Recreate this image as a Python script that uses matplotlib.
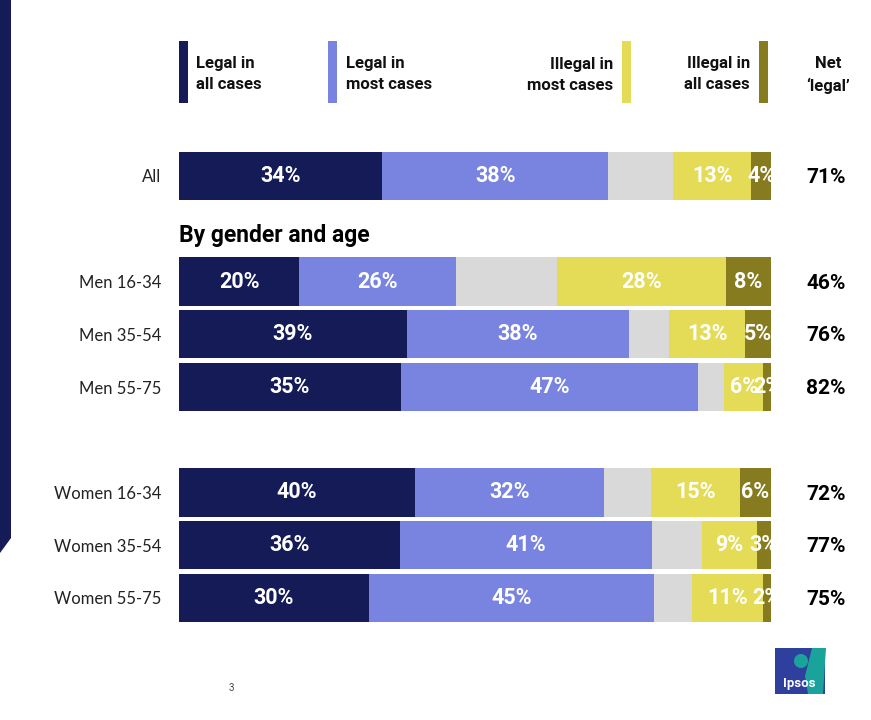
import matplotlib
matplotlib.use("Agg")
import matplotlib.pyplot as plt
from matplotlib.patches import Polygon, Rectangle, Circle

plt.rcParams['font.family'] = ['Roboto', 'DejaVu Sans']

groups = ["All", "Men 16-34", "Men 35-54", "Men 55-75",
          "Women 16-34", "Women 35-54", "Women 55-75"]
row_pos = [0, 2, 3, 4, 6, 7, 8]

# segment lengths as drawn in the picture (%)
legal_all_w = [34.3, 20.3, 38.5, 37.5, 39.9, 37.3, 32.1]
legal_most_w = [38.2, 26.5, 37.5, 50.2, 31.9, 42.6, 48.1]
dont_know_w = [11.0, 17.1, 6.8, 4.4, 7.9, 8.4, 6.4]
illegal_most_w = [13.2, 28.5, 12.8, 6.6, 15.0, 9.3, 12.0]
illegal_all_w = [3.4, 7.6, 4.4, 1.4, 5.3, 2.4, 1.4]

# printed labels
legal_all = [34, 20, 39, 35, 40, 36, 30]
legal_most = [38, 26, 38, 47, 32, 41, 45]
illegal_most = [13, 28, 13, 6, 15, 9, 11]
illegal_all = [4, 8, 5, 2, 6, 3, 2]
net_legal = [71, 46, 76, 82, 72, 77, 75]

navy = '#141b57'
light = '#7884df'
grey = '#d9d9d9'
yellow = '#e4db57'
olive = '#867b1f'

fig = plt.figure(figsize=(8.71, 7.2), dpi=100)
bg = fig.add_axes([0, 0, 1, 1])
bg.set_xlim(0, 871)
bg.set_ylim(720, 0)
bg.axis('off')

# left stripe
bg.add_patch(Polygon([(0, 0), (11, 0), (11, 538), (0, 553)], closed=True,
                     color=navy, lw=0))

# legend
leg = dict(fontsize=12, fontweight='bold', linespacing=1.5, color='#111111', va='center')
bg.add_patch(Rectangle((179, 41), 9, 62, color=navy, lw=0))
bg.text(196, 74, "Legal in\nall cases", ha='left', **leg)
bg.add_patch(Rectangle((328, 41), 9, 62, color=light, lw=0))
bg.text(346, 74, "Legal in\nmost cases", ha='left', **leg)
bg.add_patch(Rectangle((622, 41), 9, 62, color=yellow, lw=0))
bg.text(613, 75, "Illegal in\nmost cases", ha='right', multialignment='right', **leg)
bg.add_patch(Rectangle((759, 41), 9, 62, color=olive, lw=0))
bg.text(750, 74, "Illegal in\nall cases", ha='right', multialignment='right', **leg)
bg.text(828, 75, "Net\n\u2018legal\u2019", ha='center', **leg)

# page number
bg.text(231, 688, "3", ha='center', va='center', fontsize=7, color='#444444')

# Ipsos logo
bg.add_patch(Rectangle((775, 648), 50, 46, color='#2f3f9e', lw=0))
bg.add_patch(Polygon([(812, 648), (826, 648), (823, 694), (808, 694),
                      (805, 676)], closed=True, color='#1aa39a', lw=0))
bg.add_patch(Circle((801, 661), 7, color='#1aa39a', lw=0))
bg.text(799, 684, "Ipsos", ha='center', va='center', fontsize=9.5,
        fontweight='bold', color='white')

# bars
pitch = 52.75
y_top = 176 - pitch / 2
y_bot = 598 + pitch / 2
ax = fig.add_axes([179 / 871, 1 - y_bot / 720, 592 / 871, (y_bot - y_top) / 720])
ax.set_xlim(0, 100)
ax.set_ylim(8.5, -0.5)
ax.patch.set_alpha(0)

segments = [
    (legal_all_w, legal_all, navy),
    (legal_most_w, legal_most, light),
    (dont_know_w, None, grey),
    (illegal_most_w, illegal_most, yellow),
    (illegal_all_w, illegal_all, olive),
]
left = [0] * len(groups)
for widths, labels, color in segments:
    ax.barh(row_pos, widths, left=left, height=0.91, color=color, linewidth=0)
    if labels is not None:
        for y, l, w, lab in zip(row_pos, left, widths, labels):
            ax.text(l + w / 2, y, f"{lab}%", ha='center', va='center',
                    color='white', fontsize=15.5, fontweight='bold', clip_on=True)
    left = [a + b for a, b in zip(left, widths)]

for y, v in zip(row_pos, net_legal):
    ax.text(109.3, y + 0.03, f"{v}%", ha='center', va='center', color='black',
            fontsize=15, fontweight='bold', clip_on=False)

ax.text(0, 1.12, "By gender and age", ha='left', va='center', fontsize=16.5,
        fontweight='bold', color='black', clip_on=False)

ax.set_yticks(row_pos)
ax.set_yticklabels(groups, fontsize=12, family=['Lato', 'DejaVu Sans'], color='#222222')
ax.tick_params(axis='y', length=0, pad=13)
ax.set_xticks([])
for s in ax.spines.values():
    s.set_visible(False)

fig.savefig("out.png", dpi=100, facecolor='white')
